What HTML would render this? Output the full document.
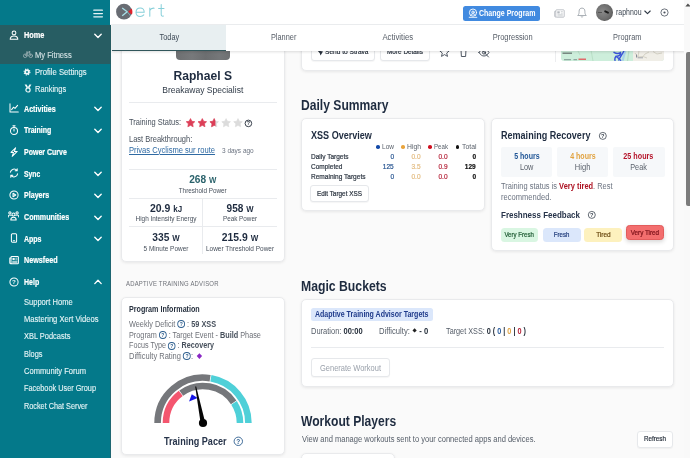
<!DOCTYPE html>
<html><head>
<meta charset="utf-8">
<style>
*{box-sizing:border-box;margin:0;padding:0}
html,body{width:690px;height:458px;overflow:hidden;background:#fafafa;font-family:"Liberation Sans",sans-serif;}
body{position:relative}
.abs{position:absolute}
#side,#top,#content,#tabs{will-change:transform}
.t{position:absolute;white-space:nowrap;line-height:1}
#side{position:absolute;left:0;top:0;width:111px;height:458px;background:#04798a;border-right:1px solid #1d6571}
#side .act{position:absolute;left:0;top:25px;width:110.7px;height:39px;background:#275d63}
.m{position:absolute;left:23.5px;color:#fff;font-weight:bold;font-size:8.5px;white-space:nowrap;line-height:10px;-webkit-text-stroke:0.2px #fff}
.s{position:absolute;-webkit-text-stroke:0.12px #e6f4f6;color:#e6f4f6;font-size:8.4px;white-space:nowrap;line-height:10px}
.chev{position:absolute;left:93.5px;width:8px;height:6px}
#top{position:absolute;left:110px;top:0;width:580px;height:25px;background:#fff;border-bottom:1px solid #eef0f2}
#tabs{position:absolute;left:111.5px;top:25px;width:572.5px;height:26px;background:#fff;box-shadow:0 1px 2.5px rgba(0,0,0,.13)}
.tab{position:absolute;top:0;height:26px;width:114.6px;text-align:center;font-size:8.5px;line-height:25px;color:#555c66}
.tab span{display:inline-block}
.card{position:absolute;background:#fff;border:1px solid #e9eaec;border-radius:5px;box-shadow:0 1px 3px rgba(0,0,0,.08)}
.hr{position:absolute;height:1px;background:#e9ebee}
.vr{position:absolute;width:1px;background:#e9ebee}
.h2{position:absolute;font-weight:bold;color:#1e2b3f;font-size:14.5px;white-space:nowrap;line-height:1}
.h3{position:absolute;font-weight:bold;color:#1e2b3f;font-size:10.3px;white-space:nowrap;line-height:1}
.g{color:#5b626c}
.btn{position:absolute;background:#fff;border:1px solid #e6e8eb;border-radius:3px;font-size:7.3px;color:#27303c;text-align:center;white-space:nowrap;box-shadow:0 1px 1px rgba(0,0,0,.04)}

.sm{font-size:7.3px;color:#47505c}
.v{text-align:center;font-weight:bold;font-size:11.2px;color:#1e2b3f}
.v span{font-size:8.6px}
.pl{font-size:8.5px;color:#6e7178;line-height:11px}
.pl b{color:#47505c}
.q{display:inline-block;width:9px;height:7.9px;border:0.95px solid #2d5e8e;border-radius:50%;vertical-align:-1.2px;position:relative}
.q:after{content:"?";position:absolute;left:0;right:0;top:0.2px;text-align:center;font-style:normal;font-weight:bold;font-size:5.8px;line-height:6px;color:#2d5e8e}
.lg{font-size:7.4px;color:#5b626c}
.d{width:3.6px;height:3.6px;border-radius:50%}
.rw{font-size:7.4px;color:#2f3844;-webkit-text-stroke:0.22px #2f3844}
.nv{font-size:7.6px;-webkit-text-stroke:0.2px;transform:scaleX(.86);transform-origin:right center}
.bx{top:147.3px;height:29.5px;background:#f6f8fa;border-radius:2px}
.hb{top:151.6px;text-align:center;font-weight:bold;font-size:8.8px}
.hl{top:163px;text-align:center;font-size:8.4px;color:#5b626c}
.hb span,.hl span,.pill span{display:inline-block}
.pill{height:14.5px;border-radius:3.5px;-webkit-text-stroke:0.22px;font-size:7.5px;text-align:center;line-height:14.5px;white-space:nowrap}
.mb{font-size:8.3px;color:#555d68}
.mb b{color:#27303c}
</style>
</head>
<body>

<!-- SIDEBAR -->
<div id="side">
  <div class="act"></div>
  <!-- hamburger -->
  <svg class="abs" style="left:93px;top:8.5px" width="10" height="9" viewBox="0 0 10 9"><path d="M0.8 1.2H9.4M0.8 4.5H9.4M0.8 7.8H9.4" stroke="#e8f4f6" stroke-width="1.25" stroke-linecap="round"></path></svg>

<svg class="abs" style="left:8.5px;top:29.6px" width="10" height="10" viewBox="0 0 10 10" stroke="#ffffff" fill="none" stroke-width="1.02" stroke-linecap="round" stroke-linejoin="round"><circle cx="5" cy="2.9" r="1.9"></circle><path d="M1.2 9.3C1.2 6.9 2.8 5.9 5 5.9S8.8 6.9 8.8 9.3Z"></path></svg>
<svg class="abs" style="left:23px;top:50px" width="10" height="9" viewBox="0 0 10 9" stroke="#9fb4b7" fill="none" stroke-width="0.8" stroke-linecap="round" stroke-linejoin="round"><circle cx="2.2" cy="5.8" r="1.8"></circle><circle cx="7.8" cy="5.8" r="1.8"></circle><path d="M2.2 5.8L4 2.8H6.6L7.8 5.8M4 2.8L5.3 5.8M6 1.5H7L6.6 2.8M3.4 2H4.6"></path></svg>
<svg class="abs" style="left:23.4px;top:67.8px" width="8" height="8" viewBox="0 0 8 8"><circle cx="4" cy="4" r="1.85" fill="none" stroke="#eef7f8" stroke-width="1.8"></circle><circle cx="4" cy="4" r="2.95" fill="none" stroke="#eef7f8" stroke-width="1.1" stroke-dasharray="1.15 1.167"></circle></svg>
<svg class="abs" style="left:23.6px;top:84.3px" width="8" height="9" viewBox="0 0 8 9"><path d="M0.6 0.5H2.6L4 3L5.4 0.5H7.4L5.6 3.8H2.4Z" fill="#eef7f8"></path><circle cx="4" cy="5.9" r="2.1" fill="none" stroke="#eef7f8" stroke-width="1.2"></circle></svg>
<svg class="abs" style="left:8.5px;top:103.0px" width="10" height="10" viewBox="0 0 10 10" stroke="#ffffff" fill="none" stroke-width="1.02" stroke-linecap="round" stroke-linejoin="round"><path d="M1 0.8V9H9.3"></path><path d="M2.6 6.6L4.6 4.2L6 5.4L8.6 2.4"></path></svg>
<svg class="abs" style="left:8.5px;top:124.6px" width="10" height="10" viewBox="0 0 10 10" stroke="#ffffff" fill="none" stroke-width="1.02" stroke-linecap="round" stroke-linejoin="round"><circle cx="5" cy="5.9" r="3.5"></circle><path d="M3.9 0.7H6.1M5 0.7V2.3M5 4V6"></path></svg>
<svg class="abs" style="left:8.5px;top:146.6px" width="10" height="10" viewBox="0 0 10 10" stroke="#ffffff" fill="none" stroke-width="1.02" stroke-linecap="round" stroke-linejoin="round"><path d="M6.6 0.8L2 5.4H4.6L3.2 9.3L8.2 4.4H5.4Z"></path></svg>
<svg class="abs" style="left:8.5px;top:168.2px" width="10" height="10" viewBox="0 0 10 10" stroke="#ffffff" fill="none" stroke-width="1.02" stroke-linecap="round" stroke-linejoin="round"><path d="M1.4 4.2A3.7 3.7 0 0 1 8 2.6M8.2 0.8V2.8H6.2"></path><path d="M8.6 5.8A3.7 3.7 0 0 1 2 7.4M1.8 9.2V7.2H3.8"></path></svg>
<svg class="abs" style="left:8.5px;top:189.7px" width="10" height="10" viewBox="0 0 10 10" stroke="#ffffff" fill="none" stroke-width="1.02" stroke-linecap="round" stroke-linejoin="round"><circle cx="5" cy="5" r="4.1"></circle><path d="M4 3.3L6.8 5L4 6.7Z"></path></svg>
<svg class="abs" style="left:8px;top:211.0px" width="11" height="11" viewBox="0 0 11 11" stroke="#ffffff" fill="none" stroke-width="1.02" stroke-linecap="round" stroke-linejoin="round"><circle cx="5.5" cy="3.6" r="1.5"></circle><path d="M2.8 9C2.8 7 3.8 6.2 5.5 6.2S8.2 7 8.2 9Z"></path><circle cx="1.9" cy="1.9" r="1.1"></circle><circle cx="9.1" cy="1.9" r="1.1"></circle><path d="M0.2 6C0.2 4.6 0.9 4 1.9 4C2.6 4 3 4.2 3.3 4.5M10.8 6C10.8 4.6 10.1 4 9.1 4C8.4 4 8 4.2 7.7 4.5"></path></svg>
<svg class="abs" style="left:8.5px;top:233.3px" width="10" height="10" viewBox="0 0 10 10" stroke="#ffffff" fill="none" stroke-width="1.02" stroke-linecap="round" stroke-linejoin="round"><rect x="2.4" y="0.7" width="5.2" height="8.6" rx="1"></rect><path d="M4.3 7.8H5.7"></path></svg>
<svg class="abs" style="left:8.5px;top:254.8px" width="10" height="10" viewBox="0 0 10 10" stroke="#ffffff" fill="none" stroke-width="1.02" stroke-linecap="round" stroke-linejoin="round"><rect x="2" y="1.4" width="7.4" height="7.4" rx="0.8"></rect><path d="M2 3H0.8V7.8C0.8 8.4 1.2 8.8 2 8.8"></path><rect x="3.5" y="2.9" width="2.2" height="2.2" fill="#f2fafb" stroke="none"></rect><path d="M6.8 3.2H8M6.8 4.8H8M3.6 6.4H8M3.6 7.6H8" stroke-width="0.7"></path></svg>
<svg class="abs" style="left:8.5px;top:276.6px" width="10" height="10" viewBox="0 0 10 10" stroke="#ffffff" fill="none" stroke-width="1.02" stroke-linecap="round" stroke-linejoin="round"><circle cx="5" cy="5" r="4.1"></circle><text x="5" y="7.3" font-size="6.2" font-weight="bold" text-anchor="middle" fill="#f2fafb" stroke="none" font-family="Liberation Sans, sans-serif">?</text></svg>
<svg class="abs" style="left:93.6px;top:33.0px" width="8" height="6" viewBox="0 0 8 6" stroke="#fff" fill="none" stroke-width="1.35" stroke-linecap="round" stroke-linejoin="round"><path d="M0.8 1.2L4 4.5L7.2 1.2"></path></svg>
<svg class="abs" style="left:93.6px;top:106.1px" width="8" height="6" viewBox="0 0 8 6" stroke="#fff" fill="none" stroke-width="1.35" stroke-linecap="round" stroke-linejoin="round"><path d="M0.8 1.2L4 4.5L7.2 1.2"></path></svg>
<svg class="abs" style="left:93.6px;top:127.6px" width="8" height="6" viewBox="0 0 8 6" stroke="#fff" fill="none" stroke-width="1.35" stroke-linecap="round" stroke-linejoin="round"><path d="M0.8 1.2L4 4.5L7.2 1.2"></path></svg>
<svg class="abs" style="left:93.6px;top:171.1px" width="8" height="6" viewBox="0 0 8 6" stroke="#fff" fill="none" stroke-width="1.35" stroke-linecap="round" stroke-linejoin="round"><path d="M0.8 1.2L4 4.5L7.2 1.2"></path></svg>
<svg class="abs" style="left:93.6px;top:192.6px" width="8" height="6" viewBox="0 0 8 6" stroke="#fff" fill="none" stroke-width="1.35" stroke-linecap="round" stroke-linejoin="round"><path d="M0.8 1.2L4 4.5L7.2 1.2"></path></svg>
<svg class="abs" style="left:93.6px;top:214.6px" width="8" height="6" viewBox="0 0 8 6" stroke="#fff" fill="none" stroke-width="1.35" stroke-linecap="round" stroke-linejoin="round"><path d="M0.8 1.2L4 4.5L7.2 1.2"></path></svg>
<svg class="abs" style="left:93.6px;top:236.1px" width="8" height="6" viewBox="0 0 8 6" stroke="#fff" fill="none" stroke-width="1.35" stroke-linecap="round" stroke-linejoin="round"><path d="M0.8 1.2L4 4.5L7.2 1.2"></path></svg>
<svg class="abs" style="left:93.6px;top:279.2px" width="8" height="6" viewBox="0 0 8 6" stroke="#fff" fill="none" stroke-width="1.35" stroke-linecap="round" stroke-linejoin="round"><path d="M0.8 4.6L4 1.3L7.2 4.6"></path></svg>
  <div class="m" style="top: 30px; transform: scaleX(0.863); transform-origin: left center;">Home</div>
  <div class="s" style="left: 35px; top: 49.5px; color: rgb(201, 216, 218); transform: scaleX(0.906); transform-origin: left center;">My Fitness</div>
  <div class="s" style="left: 35px; top: 67px; transform: scaleX(0.916); transform-origin: left center;">Profile Settings</div>
  <div class="s" style="left: 35px; top: 84px; transform: scaleX(0.893); transform-origin: left center;">Rankings</div>
  <div class="m" style="top: 103.5px; transform: scaleX(0.839); transform-origin: left center;">Activities</div>
  <div class="m" style="top: 125px; transform: scaleX(0.829); transform-origin: left center;">Training</div>
  <div class="m" style="top: 147px; transform: scaleX(0.825); transform-origin: left center;">Power Curve</div>
  <div class="m" style="top: 168.5px; transform: scaleX(0.797); transform-origin: left center;">Sync</div>
  <div class="m" style="top: 190px; transform: scaleX(0.833); transform-origin: left center;">Players</div>
  <div class="m" style="top: 212px; transform: scaleX(0.838); transform-origin: left center;">Communities</div>
  <div class="m" style="top: 233.5px; transform: scaleX(0.824); transform-origin: left center;">Apps</div>
  <div class="m" style="top: 255px; transform: scaleX(0.849); transform-origin: left center;">Newsfeed</div>
  <div class="m" style="top: 277px; transform: scaleX(0.825); transform-origin: left center;">Help</div>
  <div class="s" style="left: 23.5px; top: 297px; transform: scaleX(0.9); transform-origin: left center;">Support Home</div>
  <div class="s" style="left: 23.5px; top: 314px; transform: scaleX(0.906); transform-origin: left center;">Mastering Xert Videos</div>
  <div class="s" style="left: 23.5px; top: 331px; transform: scaleX(0.889); transform-origin: left center;">XBL Podcasts</div>
  <div class="s" style="left: 23.5px; top: 348.5px; transform: scaleX(0.883); transform-origin: left center;">Blogs</div>
  <div class="s" style="left: 23.5px; top: 366px; transform: scaleX(0.9); transform-origin: left center;">Community Forum</div>
  <div class="s" style="left: 23.5px; top: 383px; transform: scaleX(0.874); transform-origin: left center;">Facebook User Group</div>
  <div class="s" style="left: 23.5px; top: 400.5px; transform: scaleX(0.869); transform-origin: left center;">Rocket Chat Server</div>
</div>

<!-- TOP BAR -->
<div id="top">
  <!-- logo: coords relative to #top (x-110) -->
  <svg class="abs" style="left:4px;top:2px" width="56" height="20" viewBox="0 0 56 20">
    <circle cx="10" cy="9.7" r="7.9" fill="#686c73"></circle>
    <path d="M8.2 6L13.2 9.7L8.2 13.8" fill="none" stroke="#a8dfe7" stroke-width="1.3" stroke-linejoin="round"></path>
    <path d="M13.2 9.7L16.8 14.2" fill="none" stroke="#8fc4cc" stroke-width="0.7"></path>
    <path d="M14.2 9.7L17.6 6.4C18.6 8.4 18.6 10.6 17.9 12.6Z" fill="#e0212b"></path>
    <g fill="none" stroke="#86cfd9" stroke-width="1.02" stroke-linecap="round">
      <path d="M22.2 10.2H30.2C30.2 7.4 28.6 5.9 26.2 5.9C23.8 5.9 22 7.7 22 10.2C22 12.8 23.8 14.5 26.3 14.5C27.8 14.5 29 13.9 29.8 12.9"></path>
      <path d="M35.8 6.1V14.3M35.8 8.6C36.6 6.8 38.2 5.9 40.2 6.2"></path>
      <path d="M47.2 2.6V12.6C47.2 13.9 48 14.4 49.4 14.1M44.6 6.4H50"></path>
    </g>
  </svg>
  <!-- Change program button -->
  <div class="abs" style="left:352.8px;top:5.5px;width:77px;height:15.5px;background:#418ae0;border-radius:2.5px"></div>
  <svg class="abs" style="left:358px;top:8.3px" width="10" height="10" viewBox="0 0 10 10" fill="none" stroke="#fff" stroke-width="0.9" stroke-linecap="round"><circle cx="5" cy="4.6" r="3.6"></circle><circle cx="5" cy="4.2" r="1.2"></circle><path d="M2.6 7.3C3.2 6.2 4 5.9 5 5.9S6.8 6.2 7.4 7.3M1.2 9.3H8.8"></path></svg>
  <div class="t" style="left: 368.8px; top: 8.8px; font-size: 8.6px; font-weight: bold; color: rgb(255, 255, 255); transform: scaleX(0.816); transform-origin: left center;">Change Program</div>
  <!-- newspaper icon -->
  <svg class="abs" style="left:444px;top:8.8px" width="11" height="9" viewBox="0 0 11 9" fill="none" stroke="#b4b8be" stroke-width="0.85"><rect x="1.8" y="0.8" width="8.4" height="7.4" rx="0.8"></rect><path d="M1.8 2.4H0.7V7.2C0.7 7.8 1.1 8.2 1.8 8.2"></path><rect x="3.3" y="2.3" width="2.4" height="2.2" fill="#b4b8be" stroke="none"></rect><path d="M6.8 2.6H8.8M6.8 4.2H8.8M3.4 5.7H8.8M3.4 6.9H8.8" stroke-width="0.6"></path></svg>
  <!-- bell -->
  <svg class="abs" style="left:466.5px;top:7.3px" width="10" height="11" viewBox="0 0 10 11" fill="none" stroke="#9aa0a8" stroke-width="0.85" stroke-linejoin="round" stroke-linecap="round"><path d="M1 8.2C2.2 7 2.1 5.8 2.1 4.2C2.1 2.2 3.3 1.1 5 1.1S7.9 2.2 7.9 4.2C7.9 5.8 7.8 7 9 8.2Z"></path><path d="M4 9.6C4.5 10.2 5.5 10.2 6 9.6"></path></svg>
  <!-- avatar -->
  <div class="abs" style="left:486.2px;top:4.3px;width:16.4px;height:16.4px;border-radius:50%;background:radial-gradient(circle at 40% 45%,#8a8a8a 0%,#6e6e6e 55%,#4a4a4a 100%);overflow:hidden"><div class="abs" style="left:8px;top:6.5px;width:5px;height:2.4px;background:#1d1d1d;border-radius:1px;transform:rotate(25deg)"></div><div class="abs" style="left:2px;top:7.5px;width:4px;height:1.2px;background:#555"></div></div>
  <div class="t" style="left: 505.7px; top: 8.3px; font-size: 8.4px; color: rgb(61, 70, 82); transform: scaleX(0.833); transform-origin: left center;">raphnou</div>
  <svg class="abs" style="left:534.3px;top:10px" width="7" height="5" viewBox="0 0 7 5" fill="none" stroke="#2f3844" stroke-width="1.1" stroke-linecap="round" stroke-linejoin="round"><path d="M0.8 1L3.5 3.7L6.2 1"></path></svg>
  <svg class="abs" style="left:549.8px;top:8px" width="9" height="9" viewBox="0 0 9 9" fill="none" stroke="#4a525d" stroke-width="0.8"><circle cx="4.5" cy="4.5" r="3.6"></circle><circle cx="4.5" cy="4.5" r="1.1" fill="#4a525d" stroke="none"></circle></svg>
</div>

<!-- MAIN CONTENT placeholder -->

<div id="content">
  <!-- LEFT CARD 1 -->
  <div class="card" style="left:121px;top:30px;width:163.5px;height:232px"></div>
  <div class="abs" style="left:176px;top:45px;width:54px;height:15.3px;background:linear-gradient(90deg,#6d6f71,#77797b 30%,#6c6e70 55%,#757779 80%,#6e7072);border-radius:0 0 4px 4px"></div>
  <div class="t" id="name" style="left: 122px; width: 161.5px; text-align: center; top: 70.1px; font-weight: bold; font-size: 12.6px; color: rgb(30, 43, 63); transform: scaleX(0.962); transform-origin: center center;">Raphael S</div>
  <div class="t" id="spec" style="left: 122px; width: 161.5px; text-align: center; top: 85.5px; font-size: 9.2px; color: rgb(47, 58, 71); transform: scaleX(0.928); transform-origin: center center;">Breakaway Specialist</div>
  <div class="hr" style="left:129px;top:101.5px;width:148px"></div>
  <div class="t g" id="ts" style="left: 129px; top: 118px; font-size: 8.4px; color: rgb(71, 80, 92); transform: scaleX(0.891); transform-origin: left center;">Training Status:</div>
  <svg class="abs" style="left:185px;top:117px" width="70" height="12" viewBox="0 0 70 12">
    <defs><clipPath id="half"><rect x="-6" y="-6" width="7.2" height="12"></rect></clipPath></defs>
    <path d="M0.00 -4.20L1.32 -1.52L4.28 -1.09L2.14 1.00L2.65 3.94L0.00 2.55L-2.65 3.94L-2.14 1.00L-4.28 -1.09L-1.32 -1.52Z" stroke-width="0.7" stroke-linejoin="round" transform="translate(5.5 5.8)" fill="#dc3f58" stroke="#dc3f58"></path>
    <path d="M0.00 -4.20L1.32 -1.52L4.28 -1.09L2.14 1.00L2.65 3.94L0.00 2.55L-2.65 3.94L-2.14 1.00L-4.28 -1.09L-1.32 -1.52Z" stroke-width="0.7" stroke-linejoin="round" transform="translate(17.3 5.8)" fill="#dc3f58" stroke="#dc3f58"></path>
    <path d="M0.00 -4.20L1.32 -1.52L4.28 -1.09L2.14 1.00L2.65 3.94L0.00 2.55L-2.65 3.94L-2.14 1.00L-4.28 -1.09L-1.32 -1.52Z" stroke-width="0.7" stroke-linejoin="round" transform="translate(29.2 5.8)" fill="#dcdcdc" stroke="#dcdcdc"></path>
    <g transform="translate(29.2 5.8)"><path d="M0.00 -4.20L1.32 -1.52L4.28 -1.09L2.14 1.00L2.65 3.94L0.00 2.55L-2.65 3.94L-2.14 1.00L-4.28 -1.09L-1.32 -1.52Z" stroke-width="0.7" stroke-linejoin="round" fill="#dc3f58" stroke="#dc3f58" clip-path="url(#half)"></path></g>
    <path d="M0.00 -4.20L1.32 -1.52L4.28 -1.09L2.14 1.00L2.65 3.94L0.00 2.55L-2.65 3.94L-2.14 1.00L-4.28 -1.09L-1.32 -1.52Z" stroke-width="0.7" stroke-linejoin="round" transform="translate(41.1 5.8)" fill="#dcdcdc" stroke="#dcdcdc"></path>
    <path d="M0.00 -4.20L1.32 -1.52L4.28 -1.09L2.14 1.00L2.65 3.94L0.00 2.55L-2.65 3.94L-2.14 1.00L-4.28 -1.09L-1.32 -1.52Z" stroke-width="0.7" stroke-linejoin="round" transform="translate(53 5.8)" fill="#dcdcdc" stroke="#dcdcdc"></path>
    <circle cx="63.4" cy="6.4" r="3.3" fill="none" stroke="#2f3844" stroke-width="0.95"></circle>
    <text x="63.4" y="8.4" font-size="5.3" font-weight="bold" text-anchor="middle" fill="#2f3844" font-family="Liberation Sans, sans-serif">?</text>
  </svg>
  <div class="t g" id="lb" style="left: 129px; top: 134.5px; font-size: 8.4px; color: rgb(71, 80, 92); transform: scaleX(0.894); transform-origin: left center;">Last Breakthrough:</div>
  <div class="t" id="lnk" style="left: 129px; top: 145.5px; font-size: 8.4px; color: rgb(47, 106, 163); text-decoration: underline; transform: scaleX(0.906); transform-origin: left center;">Privas Cyclisme sur route</div>
  <div class="t" id="ago" style="left: 221.5px; top: 146.5px; font-size: 7px; color: rgb(107, 115, 128); transform: scaleX(0.926); transform-origin: left center;">3 days ago</div>
  <div class="hr" style="left:129px;top:169px;width:148px"></div>
  <div class="t" id="v1" style="left: 122px; width: 161.5px; text-align: center; top: 173.8px; font-weight: bold; font-size: 11.2px; color: rgb(42, 98, 107); transform: scaleX(0.906); transform-origin: center center;">268 <span style="font-size:8.6px">W</span></div>
  <div class="t sm" id="l1" style="left: 122px; width: 161.5px; text-align: center; top: 187px; transform: scaleX(0.87); transform-origin: center center;">Threshold Power</div>
  <div class="hr" style="left:129px;top:197.5px;width:148px"></div>
  <div class="vr" style="left:202px;top:198px;height:56px"></div>
  <div class="t v" id="v2" style="left: 115.5px; width: 100px; top: 202.8px; transform: scaleX(0.935); transform-origin: center center;">20.9 <span>kJ</span></div>
  <div class="t sm" id="l2" style="left: 115.5px; width: 100px; text-align: center; top: 215.2px; transform: scaleX(0.879); transform-origin: center center;">High Intensity Energy</div>
  <div class="t v" id="v3" style="left: 190px; width: 100px; top: 202.8px; transform: scaleX(0.899); transform-origin: center center;">958 <span>W</span></div>
  <div class="t sm" id="l3" style="left: 190px; width: 100px; text-align: center; top: 215.2px; transform: scaleX(0.867); transform-origin: center center;">Peak Power</div>
  <div class="hr" style="left:129px;top:226px;width:148px"></div>
  <div class="t v" id="v4" style="left: 115.5px; width: 100px; top: 231.8px; transform: scaleX(0.916); transform-origin: center center;">335 <span>W</span></div>
  <div class="t sm" id="l4" style="left: 115.5px; width: 100px; text-align: center; top: 244.5px; transform: scaleX(0.884); transform-origin: center center;">5 Minute Power</div>
  <div class="t v" id="v5" style="left: 190px; width: 100px; top: 231.8px; transform: scaleX(0.928); transform-origin: center center;">215.9 <span>W</span></div>
  <div class="t sm" id="l5" style="left: 190px; width: 100px; text-align: center; top: 244.5px; transform: scaleX(0.885); transform-origin: center center;">Lower Threshold Power</div>

  <div class="t" id="ata" style="left: 125.6px; top: 280.9px; font-size: 6.9px; color: rgb(110, 113, 120); letter-spacing: 0.25px; transform: scaleX(0.861); transform-origin: left center;">ADAPTIVE TRAINING ADVISOR</div>

  <!-- LEFT CARD 2 -->
  <div class="card" style="left:121px;top:297px;width:163.5px;height:158px"></div>
  <div class="t" id="pi" style="left: 128.5px; top: 304.5px; font-size: 8.7px; font-weight: bold; color: rgb(39, 49, 63); transform: scaleX(0.823); transform-origin: left center;">Program Information</div>
  <div class="t pl" id="p1" style="left: 128.5px; top: 319px; transform: scaleX(0.862); transform-origin: left center;">Weekly Deficit <i class="q"></i> : <b>59 XSS</b></div>
  <div class="t pl" id="p2" style="left: 128.5px; top: 329.8px; transform: scaleX(0.857); transform-origin: left center;">Program <i class="q"></i> : Target Event - <b>Build</b> Phase</div>
  <div class="t pl" id="p3" style="left: 128.5px; top: 340.4px; transform: scaleX(0.845); transform-origin: left center;">Focus Type <i class="q"></i> : <b>Recovery</b></div>
  <div class="t pl" id="p4" style="left: 128.5px; top: 350.6px; transform: scaleX(0.882); transform-origin: left center;">Difficulty Rating <i class="q"></i>: <i style="display:inline-block;width:3.7px;height:3.7px;background:#8a27c4;transform:scaleX(1.08) rotate(45deg);vertical-align:1.3px;margin-left:2.5px"></i></div>

  <svg class="abs" style="left:149.8px;top:369.7px" width="106" height="64" viewBox="0 0 106 64">
    <g fill="none" stroke-width="6.6">
      <path stroke="#75777b" d="M7.60 53.00A45.4 45.4 0 0 1 60.10 8.16"></path>
      <path stroke="#4fd0d8" d="M60.88 8.29A45.4 45.4 0 0 1 98.40 53.00"></path>
      <path stroke="#f4566f" d="M16.00 53.00A37.0 37.0 0 0 1 30.73 23.45"></path>
      <path stroke="#75777b" d="M31.25 23.07A37.0 37.0 0 0 1 83.67 32.31"></path>
      <path stroke="#4fd0d8" d="M84.03 32.85A37.0 37.0 0 0 1 90.00 53.00"></path>
    </g>
    <path d="M39.1 31.4L41.8 24.2L47.6 28Z" fill="#1414e6"></path>
    <path d="M45.2 16.6L46.2 16.5L55.2 52.4L50.7 53.4Z" fill="#050505"></path>
    <circle cx="53" cy="53" r="4.1" fill="#050505"></circle>
  </svg>
  <div class="t" id="tp" style="left: 163.5px; top: 435.5px; font-size: 11.2px; font-weight: bold; color: rgb(39, 52, 74); transform: scaleX(0.811); transform-origin: left center;">Training Pacer</div>
  <svg class="abs" style="left:233px;top:436px" width="11" height="11" viewBox="0 0 11 11"><circle cx="5.3" cy="5.3" r="4.2" fill="none" stroke="#2d5e8e" stroke-width="0.9"></circle><text x="5.3" y="7.8" font-size="6.5" font-weight="bold" text-anchor="middle" fill="#2d5e8e" font-family="Liberation Sans, sans-serif">?</text></svg>
  <!-- RIGHT: top partial card -->
  <div class="card" style="left:301px;top:30px;width:373px;height:41px"></div>
  <div class="btn" style="left:311px;top:38.5px;width:63.5px;height:22px"></div>
  <div class="t" style="left: 324.5px; top: 48.3px; font-size: 7.5px; color: rgb(39, 48, 60); -webkit-text-stroke: 0.2px rgb(39, 48, 60); transform: scaleX(0.877); transform-origin: left center;">Send to Strava</div>
  <svg class="abs" style="left:316.5px;top:49.8px" width="7" height="6" viewBox="0 0 7 6"><path d="M0.5 0.5L6 1.5L3.5 5.5L2.8 3.2Z" fill="#27303c"></path></svg>
  <div class="btn" style="left:380px;top:38.5px;width:50px;height:22px"></div>
  <div class="t" style="left: 386.5px; top: 48.3px; font-size: 7.5px; color: rgb(39, 48, 60); -webkit-text-stroke: 0.2px rgb(39, 48, 60); transform: scaleX(0.855); transform-origin: left center;">More Details</div>
  <!-- icons star / trash / eye-slash -->
  <svg class="abs" style="left:439px;top:46.3px" width="52" height="14" viewBox="0 0 52 14" fill="none" stroke="#3d4652" stroke-width="0.9" stroke-linejoin="round" stroke-linecap="round">
    <path d="M5.5 1.5L6.9 4.6L10.2 4.9L7.7 7.1L8.5 10.4L5.5 8.6L2.5 10.4L3.3 7.1L0.8 4.9L4.1 4.6Z"></path>
    <path d="M21 3.5H28M22 3.5L22.4 10.5H26.6L27 3.5M23.5 3.5V2.3H25.5V3.5"></path>
    <path d="M40 6.5C41.5 4 43.3 3 45 3S48.5 4 50 6.5C48.5 9 46.7 10 45 10S41.5 9 40 6.5Z"></path><circle cx="45" cy="6.5" r="1.6"></circle><path d="M41 2L49.5 11"></path>
  </svg>
  <div class="vr" style="left:555px;top:45px;height:17px;background:#ecedef"></div>
  <!-- map thumbnail -->
  <div class="abs" style="left:560.5px;top:45px;width:103.7px;height:16px;background:#cdeedb;border-radius:0 0 3px 3px;overflow:hidden">
    <div class="abs" style="left:72.5px;top:0;width:32px;height:16px;background:#f0eee7"></div>
    <svg class="abs" style="left:0;top:0" width="104" height="16" viewBox="0 0 104 16" fill="none">
      <path d="M64.5 5L61.5 16" stroke="#a9d4ea" stroke-width="2.2"></path>
      <path d="M68 5L66.5 16" stroke="#b7dcc4" stroke-width="1.2"></path>
      <path d="M30 5L32 16M17 6L19 10" stroke="#b4dcc2" stroke-width="0.8"></path>
      <path d="M53 7.3C55 8.6 57.5 8.8 59.5 7.6C60 10 57.5 11.5 55 11.2C54 12.5 53.6 14 54 15.3M55.2 11.2L59.6 15.2M62.6 6.5C61 9.5 59 12.5 57.8 15" stroke="#3b55d9" stroke-width="1.5" stroke-linecap="round"></path>
      <path d="M17.5 14.3H25" stroke="#e06a6a" stroke-width="1.5"></path>
      <path d="M74 8L77 12L82 11.5L86 13M78 6L77 12M88 7L84 9L82 11.5M92 6.5L96 9L101 8" stroke="#c9c5b8" stroke-width="0.7"></path>
      <path d="M75.5 9.5V12.5" stroke="#7b8190" stroke-width="0.9"></path>
      <path d="M76.5 12.8H82" stroke="#9a9fa8" stroke-width="0.9"></path>
      <path d="M1.5 8.2H11" stroke="#7a8a84" stroke-width="1.4"></path>
      <path d="M3 14.6H10M12.5 14.6H16" stroke="#8fa7a0" stroke-width="1.2"></path>
    </svg>
  </div>

  <div class="h2" style="left: 301.2px; top: 98px; transform: scaleX(0.835); transform-origin: left center;">Daily Summary</div>

  <!-- XSS overview -->
  <div class="card" style="left:301px;top:118px;width:184px;height:93px"></div>
  <div class="h3" style="left: 310.5px; top: 130.8px; transform: scaleX(0.879); transform-origin: left center;">XSS Overview</div>
  <div class="abs d" style="left:376.3px;top:145px;background:#134aa8"></div><div class="t lg" style="left: 382px; top: 143px; transform: scaleX(0.885); transform-origin: left center;">Low</div>
  <div class="abs d" style="left:401.3px;top:145px;background:#e9a43c"></div><div class="t lg" style="left: 407px; top: 143px; transform: scaleX(0.921); transform-origin: left center;">High</div>
  <div class="abs d" style="left:428.3px;top:145px;background:#cf1020"></div><div class="t lg" style="left: 434px; top: 143px; transform: scaleX(0.83); transform-origin: left center;">Peak</div>
  <div class="abs d" style="left:455.8px;top:145px;background:#111"></div><div class="t lg" style="left: 461.5px; top: 143px; transform: scaleX(0.928); transform-origin: left center;">Total</div>
  <div class="t rw" style="left: 310.5px; top: 153px; transform: scaleX(0.88); transform-origin: left center;">Daily Targets</div>
  <div class="t rw" style="left: 310.5px; top: 163px; transform: scaleX(0.881); transform-origin: left center;">Completed</div>
  <div class="t rw" style="left: 310.5px; top: 172.7px; transform: scaleX(0.886); transform-origin: left center;">Remaining Targets</div>
  <div class="t nv" style="right:296.2px;top:153px;color:#24528f">0</div>
  <div class="t nv" style="right:296.2px;top:163px;color:#24528f">125</div>
  <div class="t nv" style="right:296.2px;top:172.7px;color:#24528f">0</div>
  <div class="t nv" style="right:269px;top:153px;color:#e3bc82">0.0</div>
  <div class="t nv" style="right:269px;top:163px;color:#e3bc82">3.5</div>
  <div class="t nv" style="right:269px;top:172.7px;color:#e3bc82">0.0</div>
  <div class="t nv" style="right:242px;top:153px;color:#b5243a">0.0</div>
  <div class="t nv" style="right:242px;top:163px;color:#b5243a">0.9</div>
  <div class="t nv" style="right:242px;top:172.7px;color:#b5243a">0.0</div>
  <div class="t nv" style="right:214.2px;top:153px;color:#111;font-weight:bold">0</div>
  <div class="t nv" style="right:214.2px;top:163px;color:#111;font-weight:bold">129</div>
  <div class="t nv" style="right:214.2px;top:172.7px;color:#111;font-weight:bold">0</div>
  <div class="btn" style="left:310.2px;top:185px;width:59px;height:17px"></div>
  <div class="t" style="left: 317.2px; top: 189.8px; font-size: 7.5px; color: rgb(39, 48, 60); -webkit-text-stroke: 0.2px rgb(39, 48, 60); transform: scaleX(0.852); transform-origin: left center;">Edit Target XSS</div>

  <!-- Remaining recovery -->
  <div class="card" style="left:491px;top:118px;width:183px;height:133px"></div>
  <div class="h3" style="left: 501px; top: 130.8px; transform: scaleX(0.878); transform-origin: left center;">Remaining Recovery</div>
  <svg class="abs" style="left:598px;top:130.7px" width="10" height="10" viewBox="0 0 10 10"><circle cx="4.8" cy="4.9" r="3.5" fill="none" stroke="#3d4652" stroke-width="0.8"></circle><text x="4.8" y="7" font-size="5.6" font-weight="bold" text-anchor="middle" fill="#3d4652" font-family="Liberation Sans, sans-serif">?</text></svg>
  <div class="abs bx" style="left:501px;width:51px"></div>
  <div class="abs bx" style="left:557px;width:51px"></div>
  <div class="abs bx" style="left:612.5px;width:52px"></div>
  <div class="t hb" style="left:501px;width:51px;color:#1f5596"><span style="transform: scaleX(0.802); transform-origin: center center;">5 hours</span></div>
  <div class="t hl" style="left:501px;width:51px"><span style="transform: scaleX(0.878); transform-origin: center center;">Low</span></div>
  <div class="t hb" style="left:557px;width:51px;color:#e1a23f"><span style="transform: scaleX(0.802); transform-origin: center center;">4 hours</span></div>
  <div class="t hl" style="left:557px;width:51px"><span style="transform: scaleX(0.899); transform-origin: center center;">High</span></div>
  <div class="t hb" style="left:612.5px;width:52px;color:#b5152b"><span style="transform: scaleX(0.818); transform-origin: center center;">25 hours</span></div>
  <div class="t hl" style="left:612.5px;width:52px"><span style="transform: scaleX(0.864); transform-origin: center center;">Peak</span></div>
  <div class="t" style="left: 501px; top: 182.3px; font-size: 8.3px; color: rgb(107, 115, 128); transform: scaleX(0.898); transform-origin: left center;">Training status is <b style="color:#ad1222">Very tired</b>. Rest</div>
  <div class="t" style="left: 501px; top: 193.3px; font-size: 8.3px; color: rgb(107, 115, 128); transform: scaleX(0.912); transform-origin: left center;">recommended.</div>
  <div class="t" style="left: 501px; top: 210px; font-size: 9.6px; font-weight: bold; color: rgb(39, 52, 74); transform: scaleX(0.832); transform-origin: left center;">Freshness Feedback</div>
  <svg class="abs" style="left:587px;top:210px" width="10" height="10" viewBox="0 0 10 10"><circle cx="4.8" cy="4.9" r="3.5" fill="none" stroke="#3d4652" stroke-width="0.8"></circle><text x="4.8" y="7" font-size="5.6" font-weight="bold" text-anchor="middle" fill="#3d4652" font-family="Liberation Sans, sans-serif">?</text></svg>
  <div class="abs pill" style="left:500.5px;top:227.5px;width:37.8px;background:#d9f6e2;color:#1d5a32"><span style="transform: scaleX(0.813); transform-origin: center center;">Very Fresh</span></div>
  <div class="abs pill" style="left:542.8px;top:227.5px;width:37.8px;background:#dbe7fb;color:#1e3a7a"><span style="transform: scaleX(0.808); transform-origin: center center;">Fresh</span></div>
  <div class="abs pill" style="left:584.4px;top:227.5px;width:37.8px;background:#fdf1be;color:#6b4a12"><span style="transform: scaleX(0.862); transform-origin: center center;">Tired</span></div>
  <div class="abs pill" style="left:626.3px;top:225.1px;width:38px;background:#f36e6e;color:#7a1018;border:0.5px solid #e25c5c;box-shadow:0 2px 4px rgba(0,0,0,.16)"><span style="transform: scaleX(0.844); transform-origin: center center;">Very Tired</span></div>

  <!-- Magic buckets -->
  <div class="h2" style="left: 301.2px; top: 279px; transform: scaleX(0.843); transform-origin: left center;">Magic Buckets</div>
  <div class="card" style="left:301px;top:299px;width:373px;height:87.5px"></div>
  <div class="abs" style="left:310.5px;top:308.3px;width:122.3px;height:13px;background:#dbe7fb;border-radius:2.5px"></div>
  <div class="t" style="left: 315px; top: 310.4px; font-size: 8.6px; font-weight: bold; color: rgb(30, 58, 138); transform: scaleX(0.817); transform-origin: left center;">Adaptive Training Advisor Targets</div>
  <div class="t mb" style="left: 310.5px; top: 326.7px; transform: scaleX(0.904); transform-origin: left center;">Duration: <b>00:00</b></div>
  <div class="t mb" style="left: 379px; top: 326.7px; transform: scaleX(0.922); transform-origin: left center;">Difficulty: <i style="display:inline-block;width:3.2px;height:3.2px;background:#222;transform:scaleX(1.08) rotate(45deg);vertical-align:1.3px;margin:0 1.2px"></i> <b>- 0</b></div>
  <div class="t mb" style="left: 446px; top: 326.7px; transform: scaleX(0.875); transform-origin: left center;">Target XSS: <b>0 ( <span style="color:#2a5d9f">0</span> | <span style="color:#e1a23f">0</span> | <span style="color:#b5243a">0</span> )</b></div>
  <div class="hr" style="left:310.5px;top:347px;width:353.5px"></div>
  <div class="btn" style="left:310.5px;top:358.3px;width:79px;height:19.2px"></div>
  <div class="t" style="left: 319.5px; top: 363.8px; font-size: 8.4px; color: rgb(154, 161, 171); transform: scaleX(0.893); transform-origin: left center;">Generate Workout</div>

  <!-- Workout players -->
  <div class="h2" style="left: 301.2px; top: 413.7px; transform: scaleX(0.834); transform-origin: left center;">Workout Players</div>
  <div class="t" style="left: 301.5px; top: 434.7px; font-size: 8.3px; color: rgb(85, 93, 104); transform: scaleX(0.908); transform-origin: left center;">View and manage workouts sent to your connected apps and devices.</div>
  <div class="btn" style="left:636.5px;top:430.5px;width:36.5px;height:17px"></div>
  <div class="t" style="left: 643.5px; top: 435.3px; font-size: 7.5px; color: rgb(39, 48, 60); -webkit-text-stroke: 0.2px rgb(39, 48, 60); transform: scaleX(0.838); transform-origin: left center;">Refresh</div>
  <div class="card" style="left:301px;top:452.5px;width:94px;height:20px"></div>

</div>

<!-- TABS -->
<div id="tabs">
  <div class="tab" style="left:0;width:114px;height:25.5px;background:#e8eff1;border-bottom:1.5px solid #31565b;color:#3d4a57"><span style="transform: scaleX(0.868); transform-origin: center center;">Today</span></div>
  <div class="tab" style="left:114px"><span style="transform: scaleX(0.867); transform-origin: center center;">Planner</span></div>
  <div class="tab" style="left:228.5px"><span style="transform: scaleX(0.915); transform-origin: center center;">Activities</span></div>
  <div class="tab" style="left:343.5px"><span style="transform: scaleX(0.882); transform-origin: center center;">Progression</span></div>
  <div class="tab" style="left:458px"><span style="transform: scaleX(0.871); transform-origin: center center;">Program</span></div>
</div>

<!-- scrollbar -->
<div class="abs" style="left:684px;top:0;width:6px;height:458px;background:#f9f9f9"></div>
<svg class="abs" style="left:685px;top:3px" width="5" height="4" viewBox="0 0 5 4"><path d="M0.3 3.4L2.9 0.6L5.5 3.4Z" fill="#505050"></path></svg>
<div class="abs" style="left:686px;top:52px;width:4px;height:154px;background:#7b7b7b;border-radius:2px 0 0 2px"></div>



</body></html>
